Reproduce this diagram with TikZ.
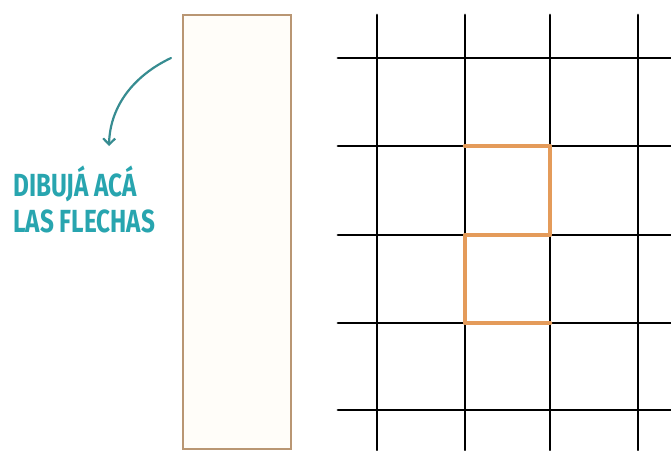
\documentclass[tikz,border=0pt]{standalone}
\usepackage{fontspec}
\usepackage{tikz}
\usepackage{xcolor}
\usetikzlibrary{positioning, arrows.meta}
\newfontfamily\flechafont[FakeStretch=0.76]{Fira Sans}
\definecolor{turquesa}{RGB}{40,165,175}
\definecolor{turquesaosc}{RGB}{55,140,145}
\definecolor{naranja}{RGB}{228,155,90}
\definecolor{marco}{RGB}{185,150,115}
\definecolor{crema}{RGB}{255,253,249}

\begin{document}
\begin{tikzpicture}[
  x=1pt, y=-1pt,
  style={line cap=round},
  rotulo/.style={text=turquesa, inner sep=0pt, anchor=base west,
    font={\flechafont\bfseries\fontsize{32}{37}\selectfont}},
]
  \useasboundingbox (0,0) rectangle (671,450);
  % box where the arrows go
  \draw[marco, line width=1.5pt, fill=crema] (183,15) rectangle (291,449);

  % grid
  \foreach \x in {377,465,550,638}
    \draw[line width=2.8pt] (\x,15) -- (\x,450);
  \foreach \y in {58,146,235,323,410}
    \draw[line width=2.8pt] (338,\y) -- (671,\y);
  \draw[naranja, line width=4.5pt, line join=round]
    (465,146) -- (550,146) -- (550,235) -- (465,235) -- (465,323) -- (550,323);

  % label and arrow
  \node[rotulo] (dibuja) at (13,196) {DIBUJÁ ACÁ};
  \node[rotulo] (flechas) at (13,232) {LAS FLECHAS};
  \coordinate (inicio) at (171,58);
  \coordinate (punta) at (109,146);
  \draw[turquesaosc, line width=2.2pt, -{Straight Barb[length=6pt, width=12pt]}]
    (inicio) .. controls (135,75) and (110,105) .. (punta);
\end{tikzpicture}
\end{document}
